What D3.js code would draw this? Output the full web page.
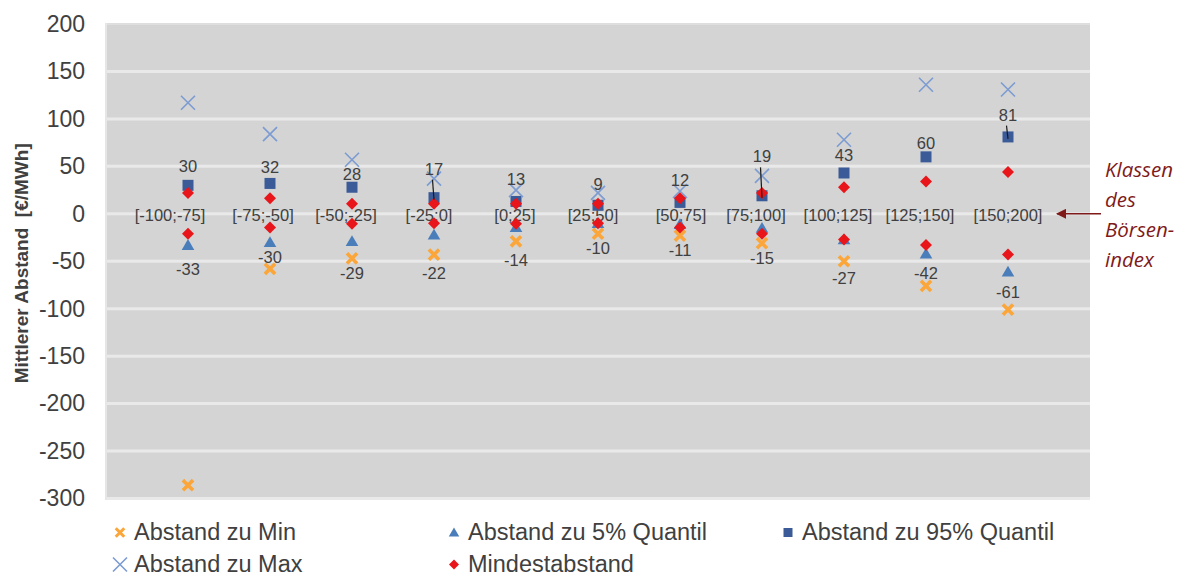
<!DOCTYPE html>
<html>
<head>
<meta charset="utf-8">
<script src="https://cdn.jsdelivr.net/npm/d3@7"></script>
<style>
  html, body { margin: 0; padding: 0; background: #fff; }
  svg { display: block; }
  text { font-family: "Liberation Sans", Arial, sans-serif; }
</style>
</head>
<body>
<svg id="chart" width="1187" height="577"></svg>
<script>
// Price classes of the exchange index
const classes = ["[-100;-75]", "[-75;-50]", "[-50;-25]", "[-25;0]", "[0;25]", "[25;50]",
                 "[50;75]", "[75;100]", "[100;125]", "[125;150]", "[150;200]"];

// Mean distances per class in €/MWh
const distMin  = [-286, -58, -47, -43, -29, -21, -23, -31, -50, -76, -101];
const dist5    = [-33, -30, -29, -22, -14, -10, -11, -15, -27, -42, -61];
const dist95   = [30, 32, 28, 17, 13, 9, 12, 19, 43, 60, 81];
const distMax  = [117, 84, 57, 37, 25, 22, 24, 40, 78, 136, 131];
const minGapUp   = [22, 16.5, 10.5, 10.5, 10.5, 10.5, 16.5, 22, 28, 34, 44];
const minGapDown = [-21, -14.5, -10.5, -10, -10.5, -10, -14.5, -21, -27, -33, -43];

// Y axis ticks
const yTicks = [200, 150, 100, 50, 0, -50, -100, -150, -200, -250, -300];

// Label placement: value labels (in €/MWh along the axis), leader lines,
// and the horizontal nudge (px) of each class label on the zero line
const label95At = [50, 49, 42, 47.5, 37, 31.5, 36, 60.5, 61.5, 74.5, 104.5];
const label5At  = [-58, -45, -62, -62, -49, -36, -38, -47, -68, -62.5, -82.5];
const leaderIdx = [3, 7, 10];
const classLabelDx = [-18, -7, -6, -5, -1, -5, 1, -6, -6, -6, 0];

const svg = d3.select("#chart");
const plot = { left: 106, right: 1090, top: 24, bottom: 498.5 };

const x = d3.scaleLinear().domain([0, classes.length + 1]).range([plot.left, plot.right]);
const y = d3.scaleLinear().domain([-300, 200]).range([plot.bottom, plot.top]);

const C = {
  min: "#fba63a", q5: "#4a7ebb", q95: "#3a5a98", max: "#7c9cd2", gap: "#e8161b",
  text: "#404040", grid: "#e9e9e9", bg: "#d4d4d4", note: "#7f1a1a"
};

// Plot background
svg.append("rect")
  .attr("x", plot.left).attr("y", plot.top - 1)
  .attr("width", plot.right - plot.left).attr("height", plot.bottom - plot.top + 2)
  .attr("fill", C.bg);

// Gridlines
svg.append("g").selectAll("line").data(yTicks).join("line")
  .attr("x1", plot.left).attr("x2", plot.right)
  .attr("y1", d => y(d)).attr("y2", d => y(d))
  .attr("stroke", C.grid).attr("stroke-width", d => d === 200 ? 1 : 3);

// Left edge
svg.append("line")
  .attr("x1", plot.left).attr("x2", plot.left)
  .attr("y1", plot.top - 1).attr("y2", plot.bottom + 1.5)
  .attr("stroke", "#e6e6e6").attr("stroke-width", 2);

// Y axis labels
const yAxis = d3.axisLeft(y).tickValues(yTicks).tickSize(0).tickPadding(21)
  .tickFormat(d => String(d));
const gY = svg.append("g").attr("transform", `translate(${plot.left},0)`).call(yAxis);
gY.select(".domain").remove();
gY.selectAll("text")
  .attr("fill", C.text)
  .style("font-family", "'Liberation Sans', Arial, sans-serif")
  .style("font-size", "23px");

// Y axis title
svg.append("text")
  .attr("transform", `translate(28,${(plot.top + plot.bottom) / 2 + 2}) rotate(-90)`)
  .attr("text-anchor", "middle")
  .attr("fill", C.text)
  .style("white-space", "pre")
  .style("font-size", "19px").style("font-weight", "bold")
  .text("Mittlerer Abstand  [€/MWh]");

// Marker shapes
function xThick(g, s) {
  g.append("path")
    .attr("d", `M${-s},${-s}L${s},${s}M${-s},${s}L${s},${-s}`)
    .attr("stroke", C.min).attr("stroke-width", s * 0.95).attr("stroke-linecap", "square").attr("fill", "none");
}
function xThin(g, s) {
  g.append("path")
    .attr("d", `M${-s},${-s}L${s},${s}M${-s},${s}L${s},${-s}`)
    .attr("stroke", C.max).attr("stroke-width", 1.6).attr("fill", "none");
}
function tri(g, s) {
  g.append("path").attr("d", `M0,${-s}L${s * 1.05},${s * 0.8}L${-s * 1.05},${s * 0.8}Z`).attr("fill", C.q5);
}
function square(g, s) {
  g.append("rect").attr("x", -s).attr("y", -s).attr("width", 2 * s).attr("height", 2 * s).attr("fill", C.q95);
}
function diamond(g, s) {
  g.append("path").attr("d", `M0,${-s}L${s},0L0,${s}L${-s},0Z`).attr("fill", C.gap);
}

const idx = d3.range(classes.length);

function series(values, draw, size) {
  const g = svg.append("g");
  g.selectAll("g").data(idx).join("g")
    .attr("transform", i => `translate(${x(i + 1)},${y(values[i])})`)
    .each(function () { draw(d3.select(this), size); });
}

// Class labels along the zero line
svg.append("g").selectAll("text").data(idx).join("text")
  .attr("x", i => x(i + 1) + classLabelDx[i]).attr("y", y(0) + 7)
  .attr("text-anchor", "middle")
  .attr("fill", C.text)
  .style("font-size", "16.5px")
  .text(i => classes[i]);

series(distMin, xThick, 3.8);
series(dist5, tri, 6);
series(dist95, square, 5.5);
series(distMax, xThin, 7);
series(minGapUp, diamond, 6);
series(minGapDown, diamond, 6);

// Leader lines for displaced labels
svg.append("g").selectAll("line").data(leaderIdx).join("line")
  .attr("x1", i => x(i + 1) - 1.5).attr("x2", i => x(i + 1))
  .attr("y1", i => y(label95At[i]) + 11).attr("y2", i => y(dist95[i]) + 2)
  .attr("stroke", "#1a1a1a").attr("stroke-width", 1.2);

// Value labels
svg.append("g").selectAll("text").data(idx).join("text")
  .attr("x", i => x(i + 1)).attr("y", i => y(label95At[i]) + 6)
  .attr("text-anchor", "middle").attr("fill", C.text)
  .style("font-size", "16.5px")
  .text(i => dist95[i]);
svg.append("g").selectAll("text").data(idx).join("text")
  .attr("x", i => x(i + 1)).attr("y", i => y(label5At[i]) + 6)
  .attr("text-anchor", "middle").attr("fill", C.text)
  .style("font-size", "16.5px")
  .text(i => dist5[i]);

// Note on the right with arrow to the class labels
const defs = svg.append("defs");
defs.append("marker").attr("id", "arrowHead")
  .attr("viewBox", "0 0 10 10").attr("refX", 9).attr("refY", 5)
  .attr("markerWidth", 12).attr("markerHeight", 10).attr("markerUnits", "userSpaceOnUse")
  .attr("orient", "auto")
  .append("path").attr("d", "M0,0L10,5L0,10Z").attr("fill", C.note);
svg.append("line")
  .attr("x1", 1101).attr("x2", 1057).attr("y1", y(0)).attr("y2", y(0))
  .attr("stroke", C.note).attr("stroke-width", 1.5)
  .attr("marker-end", "url(#arrowHead)");
const noteLines = ["Klassen", "des", "Börsen-", "index"];
svg.append("g").selectAll("text").data(noteLines).join("text")
  .attr("x", 1105).attr("y", (d, i) => 177 + i * 30)
  .attr("fill", C.note)
  .style("font-family", "'Open Sans', Lato, sans-serif")
  .style("font-style", "italic")
  .style("font-size", "20.5px")
  .text(d => d);

// Legend
const legendItems = [
  { name: "Abstand zu Min", draw: xThick, s: 3.2, col: 0, row: 0 },
  { name: "Abstand zu 5% Quantil", draw: tri, s: 5, col: 1, row: 0 },
  { name: "Abstand zu 95% Quantil", draw: square, s: 4.5, col: 2, row: 0 },
  { name: "Abstand zu Max", draw: xThin, s: 7, col: 0, row: 1 },
  { name: "Mindestabstand", draw: diamond, s: 5, col: 1, row: 1 }
];
const colX = [120, 454, 788];
const rowY = [532.5, 564.5];
const lg = svg.append("g").selectAll("g").data(legendItems).join("g")
  .attr("transform", d => `translate(${colX[d.col]},${rowY[d.row]})`);
lg.each(function (d) {
  const g = d3.select(this);
  d.draw(g.append("g"), d.s);
  g.append("text").attr("x", 14).attr("y", 7.5)
    .attr("fill", C.text)
    .style("font-size", "23.5px")
    .text(d.name);
});
</script>
</body>
</html>
